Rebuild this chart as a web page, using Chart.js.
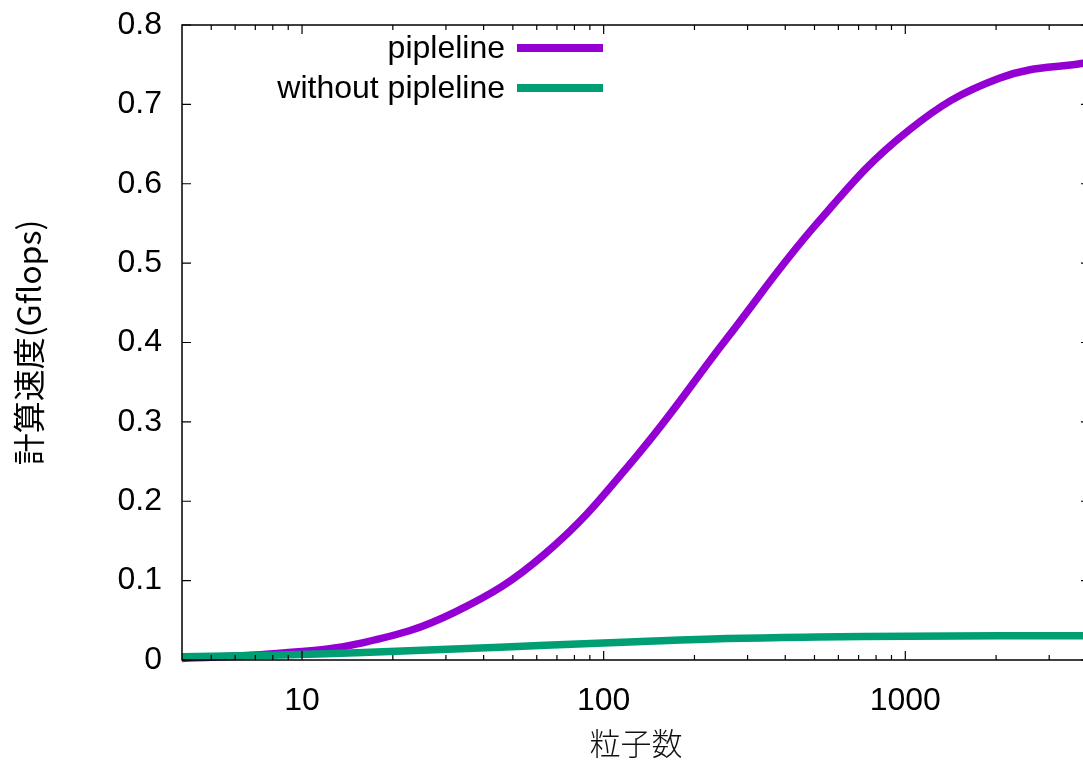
<!DOCTYPE html>
<html>
<head>
<meta charset="utf-8">
<script src="https://cdn.jsdelivr.net/npm/chart.js@4"></script>
<style>
  body { margin: 0; background: #fff; overflow: hidden; }
  #wrap { width: 1100px; height: 762px; }
</style>
</head>
<body>
<div id="wrap"><canvas id="chart" width="1100" height="762"></canvas></div>
<script>
// particle counts (x) and speeds (Gflops)
const particles = [4, 8, 16, 32, 64, 128, 256, 512, 1024, 2048, 4096];
const pipeline = [0.002, 0.008, 0.022, 0.060, 0.134, 0.256, 0.405, 0.551, 0.667, 0.733, 0.753];
const noPipeline = [0.004, 0.006, 0.0095, 0.0139, 0.0185, 0.023, 0.027, 0.029, 0.030, 0.0305, 0.0305];
const xLabels = [10, 100, 1000];
const yLabels = [0, 0.1, 0.2, 0.3, 0.4, 0.5, 0.6, 0.7, 0.8];
const minorX = [5, 6, 7, 8, 9, 20, 30, 40, 50, 60, 70, 80, 90, 200, 300, 400, 500, 600, 700, 800, 900, 2000, 3000, 4000];

const purple = '#9400d3';
const green = '#009e73';
const textFont = '"Liberation Sans", Arial, sans-serif';

// gnuplot style box with inward ticks
const boxPlugin = {
    id: 'box',
    afterDatasetsDraw(chart) {
        const { ctx, chartArea: a, scales } = chart;
        ctx.save();
        ctx.strokeStyle = '#000';
        ctx.lineWidth = 1.5;
        ctx.strokeRect(a.left, a.top, a.right - a.left, a.bottom - a.top);
        ctx.lineWidth = 1.2;
        ctx.beginPath();
        xLabels.forEach(v => {
            const x = scales.x.getPixelForValue(v);
            ctx.moveTo(x, a.bottom); ctx.lineTo(x, a.bottom - 9);
            ctx.moveTo(x, a.top); ctx.lineTo(x, a.top + 9);
        });
        minorX.forEach(v => {
            const x = scales.x.getPixelForValue(v);
            ctx.moveTo(x, a.bottom); ctx.lineTo(x, a.bottom - 5);
            ctx.moveTo(x, a.top); ctx.lineTo(x, a.top + 5);
        });
        yLabels.forEach(v => {
            const y = scales.y.getPixelForValue(v);
            ctx.moveTo(a.left, y); ctx.lineTo(a.left + 9, y);
            ctx.moveTo(a.right, y); ctx.lineTo(a.right - 9, y);
        });
        ctx.stroke();
        ctx.restore();
    },
    afterDraw(chart) {
        // legend: text right aligned, sample line after it
        const { ctx } = chart;
        ctx.save();
        ctx.font = '32px ' + textFont;
        ctx.textAlign = 'right';
        ctx.textBaseline = 'middle';
        [0, 1].forEach(i => {
            const ds = chart.data.datasets[i];
            const y = 48 + i * 40;
            ctx.fillStyle = '#000';
            ctx.fillText(ds.label, 505, y + 1);
            ctx.strokeStyle = ds.borderColor;
            ctx.lineWidth = 8;
            ctx.beginPath();
            ctx.moveTo(517, y);
            ctx.lineTo(603, y);
            ctx.stroke();
        });
        ctx.restore();
    }
};

new Chart(document.getElementById('chart'), {
    type: 'line',
    data: {
        datasets: [{
            label: 'pipleline',
            data: particles.map((p, i) => ({ x: p, y: pipeline[i] })),
            borderColor: purple,
            borderWidth: 7.5,
            pointRadius: 0,
            tension: 0.4,
            order: 1
        }, {
            label: 'without pipleline',
            data: particles.map((p, i) => ({ x: p, y: noPipeline[i] })),
            borderColor: green,
            borderWidth: 7.5,
            pointRadius: 0,
            tension: 0.4,
            order: 0
        }]
    },
    options: {
        responsive: false,
        animation: false,
        clip: 6,
        layout: { padding: { top: 25, right: 10, left: 0, bottom: 0 } },
        plugins: { legend: { display: false }, tooltip: { enabled: false } },
        scales: {
            x: {
                type: 'logarithmic',
                min: 4,
                max: 4096,
                afterBuildTicks: (scale) => { scale.ticks = xLabels.map(v => ({ value: v })); },
                afterFit: (scale) => {
                    scale.height = 102;
                    scale.paddingLeft = 0;
                    scale.paddingRight = 0;
                },
                grid: { display: false, drawTicks: false },
                border: { display: false },
                ticks: {
                    autoSkip: false,
                    maxRotation: 0,
                    padding: 22,
                    color: '#000',
                    font: { family: textFont, size: 32 },
                    callback: (v) => String(v)
                },
                title: {
                    display: true,
                    text: '粒子数',
                    color: '#111',
                    padding: { top: 0, bottom: 0 },
                    font: { family: '"Noto Sans CJK JP", sans-serif', size: 31, weight: 300 }
                }
            },
            y: {
                min: 0,
                max: 0.8,
                afterBuildTicks: (scale) => { scale.ticks = yLabels.map(v => ({ value: v })); },
                afterFit: (scale) => {
                    scale.width = 182;
                    scale.paddingTop = 0;
                    scale.paddingBottom = 0;
                },
                grid: { display: false, drawTicks: false },
                border: { display: false },
                ticks: {
                    padding: 20,
                    color: '#000',
                    font: { family: textFont, size: 32 },
                    callback: (v) => String(v)
                },
                title: {
                    display: true,
                    text: '計算速度(Gflops)',
                    color: '#000',
                    padding: { top: 10, bottom: 0 },
                    font: { family: '"Noto Sans CJK JP", sans-serif', size: 32 }
                }
            }
        }
    },
    plugins: [boxPlugin]
});
</script>
</body>
</html>
